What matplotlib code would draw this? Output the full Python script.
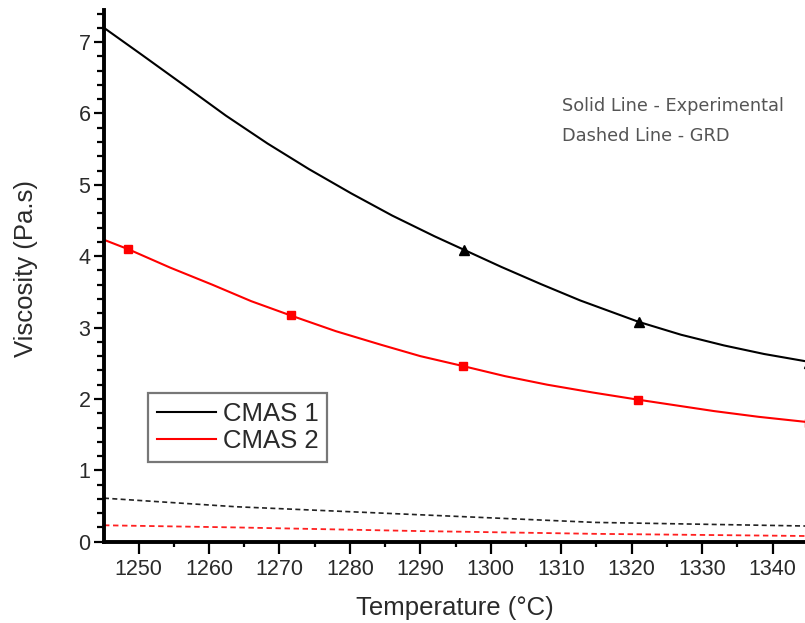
import matplotlib
matplotlib.use("Agg")
import matplotlib.pyplot as plt
from matplotlib.ticker import MultipleLocator

# === Data ===
# fitted experimental curves (solid)
temp_cmas1 = [1245.1, 1250.5, 1256.4, 1262.4, 1268.3, 1274.2, 1280.2, 1286.0, 1292.0, 1296.2,
              1301.5, 1307.1, 1312.7, 1321.0, 1327.0, 1333.1, 1338.8, 1344.6]
visc_cmas1 = [7.20, 6.82, 6.40, 5.97, 5.58, 5.22, 4.88, 4.57, 4.28, 4.09,
              3.85, 3.61, 3.38, 3.08, 2.90, 2.75, 2.63, 2.53]
temp_cmas2 = [1245.1, 1248.5, 1254.5, 1260.5, 1266.0, 1271.6, 1278.0, 1284.4, 1290.0, 1296.1,
              1302.0, 1308.0, 1314.5, 1320.9, 1326.3, 1331.7, 1338.0, 1344.6]
visc_cmas2 = [4.23, 4.10, 3.84, 3.60, 3.37, 3.17, 2.95, 2.76, 2.60, 2.46,
              2.32, 2.20, 2.09, 1.99, 1.91, 1.83, 1.75, 1.68]

# measured points (markers) - last one sits right on the frame edge
meas_temp_cmas1 = [1296.2, 1321.0, 1345.1]
meas_visc_cmas1 = [4.09, 3.08, 2.51]
meas_temp_cmas2 = [1248.5, 1271.6, 1296.1, 1320.9, 1345.1]
meas_visc_cmas2 = [4.10, 3.17, 2.46, 1.99, 1.67]

# GRD model (dashed)
grd_temp = [1245.1, 1263.8, 1289.3, 1314.9, 1344.6]
grd_cmas1 = [0.61, 0.49, 0.38, 0.27, 0.22]
grd_cmas2 = [0.23, 0.20, 0.15, 0.11, 0.08]

x_ticks = [1250, 1260, 1270, 1280, 1290, 1300, 1310, 1320, 1330, 1340]
y_ticks = [0, 1, 2, 3, 4, 5, 6, 7]

# === Style ===
plt.rcParams["font.family"] = ["Liberation Sans", "DejaVu Sans"]
TEXT_COLOR = "#2a2a2a"

fig = plt.figure(figsize=(8.05, 6.23), dpi=100)
ax = fig.add_axes([104 / 805, 1 - 541.7 / 623, 701 / 805, 531.7 / 623])

# solid = experimental fit, these carry the legend labels
ax.plot(temp_cmas1, visc_cmas1, color="black", lw=1.5, label="CMAS 1")
ax.plot(temp_cmas2, visc_cmas2, color="#ff0000", lw=1.5, label="CMAS 2")
ax.plot(meas_temp_cmas1, meas_visc_cmas1, "^", color="black", ms=6.5, ls="none")
ax.plot(meas_temp_cmas2, meas_visc_cmas2, "s", color="#ff0000", ms=5.5, ls="none")

# dashed = GRD prediction
ax.plot(grd_temp, grd_cmas1, color="#222222", lw=1.2, dashes=(3, 2))
ax.plot(grd_temp, grd_cmas2, color="#ff2020", lw=1.3, dashes=(3, 2))

# === Axes ===
ax.set_xlim(1245.1, 1344.6)
ax.set_ylim(0, 7.45)
ax.set_xticks(x_ticks)
ax.set_yticks(y_ticks)
ax.xaxis.set_minor_locator(MultipleLocator(5))
ax.yaxis.set_minor_locator(MultipleLocator(0.2))

for side in ["top", "right"]:
    ax.spines[side].set_visible(False)
for side in ["left", "bottom"]:
    ax.spines[side].set_linewidth(2.8)

ax.tick_params(axis="x", which="major", direction="out", length=8.6, width=1.6, pad=3.5,
               labelsize=15.5, labelcolor=TEXT_COLOR)
ax.tick_params(axis="x", which="minor", direction="out", length=3.8, width=1.6)
ax.tick_params(axis="y", which="major", direction="out", length=7.2, width=1.6, pad=2.5,
               labelsize=15.5, labelcolor=TEXT_COLOR)
ax.tick_params(axis="y", which="minor", direction="out", length=5.0, width=1.6)

ax.set_xlabel("Temperature (°C)", fontsize=18.5, color=TEXT_COLOR)
ax.set_ylabel("Viscosity (Pa.s)", fontsize=18.5, color=TEXT_COLOR)
ax.xaxis.set_label_coords(0.5, -0.125)
ax.xaxis.label.set_va("center")
ax.yaxis.set_label_coords(-0.111, 0.514)
ax.yaxis.label.set_va("center")

leg = ax.legend(loc="upper left", bbox_to_anchor=(0.063, 0.28), borderaxespad=0,
                fontsize=18.5, fancybox=False, framealpha=1, edgecolor="#777777",
                handlelength=2.3, handletextpad=0.25, borderpad=0.35, labelspacing=0.12)
leg.get_frame().set_linewidth(1.6)
for t in leg.get_texts():
    t.set_color(TEXT_COLOR)

# note in upper right
ax.text(0.653, 0.82, "Solid Line - Experimental", transform=ax.transAxes,
        fontsize=12.8, family="DejaVu Sans", color="#555555", va="center")
ax.text(0.653, 0.763, "Dashed Line - GRD", transform=ax.transAxes,
        fontsize=12.8, family="DejaVu Sans", color="#555555", va="center")

fig.savefig("out.png", dpi=100)
